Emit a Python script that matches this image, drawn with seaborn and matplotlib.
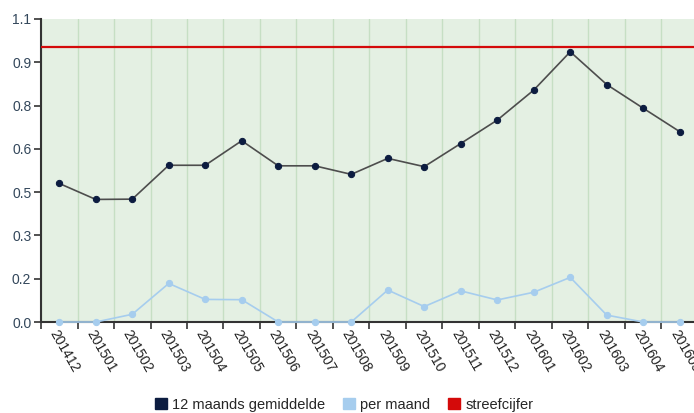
import numpy as np
import pandas as pd
import matplotlib
matplotlib.use('Agg')
import matplotlib.pyplot as plt
import seaborn as sns
from matplotlib.patches import Patch
from matplotlib.ticker import FormatStrFormatter, FixedLocator

# Data
months = ['201412', '201501', '201502', '201503', '201504', '201505',
          '201506', '201507', '201508', '201509', '201510', '201511',
          '201512', '201601', '201602', '201603', '201604', '201605']
avg_12m = [0.503, 0.445, 0.446, 0.569, 0.569, 0.658,
           0.567, 0.567, 0.536, 0.594, 0.564, 0.648,
           0.733, 0.842, 0.981, 0.862, 0.776, 0.691]
per_month = [0.0, 0.0, 0.028, 0.140, 0.082, 0.081,
             0.0, 0.0, 0.0, 0.116, 0.056, 0.113,
             0.080, 0.108, 0.162, 0.025, 0.0, 0.0]
target = 1.0

df = pd.DataFrame({'maand': months, 'gem': avg_12m, 'per': per_month})

sns.set_style('white')
plt.rcParams['font.family'] = ['Liberation Sans', 'DejaVu Sans']

fig = plt.figure(figsize=(6.94, 4.13), dpi=100)
ax = fig.add_axes([41/694, 91/413, 657/694, 303/413])
ax.set_facecolor('#e4f0e3')

navy = '#0c1c40'
light = '#a6cdee'
red = '#d40a0a'

sns.lineplot(data=df, x='maand', y='per', ax=ax, sort=False, color=light,
             linewidth=1.2, marker='o', markersize=4.5, markeredgecolor=light,
             markerfacecolor=light, clip_on=False, zorder=3)
sns.lineplot(data=df, x='maand', y='gem', ax=ax, sort=False, color='#4d4d4d',
             linewidth=1.2, marker='o', markersize=4.5, markeredgecolor=navy,
             markerfacecolor=navy, zorder=4)
ax.axhline(target, color=red, linewidth=1.6, zorder=5)

n = len(months)
ax.set_xlim(-0.5, n - 0.5)
ax.set_ylim(0, 1.1)

# category boundaries: tick marks and vertical grid
ax.xaxis.set_minor_locator(FixedLocator(np.arange(-0.5, n, 1.0)))
ax.grid(False)
ax.grid(True, which='minor', axis='x', color='#c6dfc4', linewidth=1)
ax.set_xticks(range(n))
ax.set_xticklabels(months, rotation=-60, ha='left', va='top',
                   rotation_mode='anchor', fontsize=10, color='#222222')
ax.tick_params(axis='x', which='major', length=0, pad=4)
ax.tick_params(axis='x', which='minor', length=5, width=1.2, color='#333333',
               direction='out', bottom=True)

ax.set_yticks(np.linspace(0, 1.1, 8))
ax.yaxis.set_major_formatter(FormatStrFormatter('%.1f'))
ax.tick_params(axis='y', length=5, width=1.2, color='#333333', direction='out',
               left=True, labelsize=10, labelcolor='#33475b', pad=2)

for side in ['top', 'right']:
    ax.spines[side].set_visible(False)
for side in ['left', 'bottom']:
    ax.spines[side].set_color('#333333')
    ax.spines[side].set_linewidth(1.5)

ax.set_xlabel('')
ax.set_ylabel('')

handles = [Patch(color=navy, label='12 maands gemiddelde'),
           Patch(color=light, label='per maand'),
           Patch(color=red, label='streefcijfer')]
fig.legend(handles=handles, loc='center', bbox_to_anchor=(0.496, 0.02),
           ncol=3, frameon=False, fontsize=10.5, handlelength=0.8,
           handleheight=0.8, handletextpad=0.4, columnspacing=1.2)

fig.savefig('out.png', dpi=100)
